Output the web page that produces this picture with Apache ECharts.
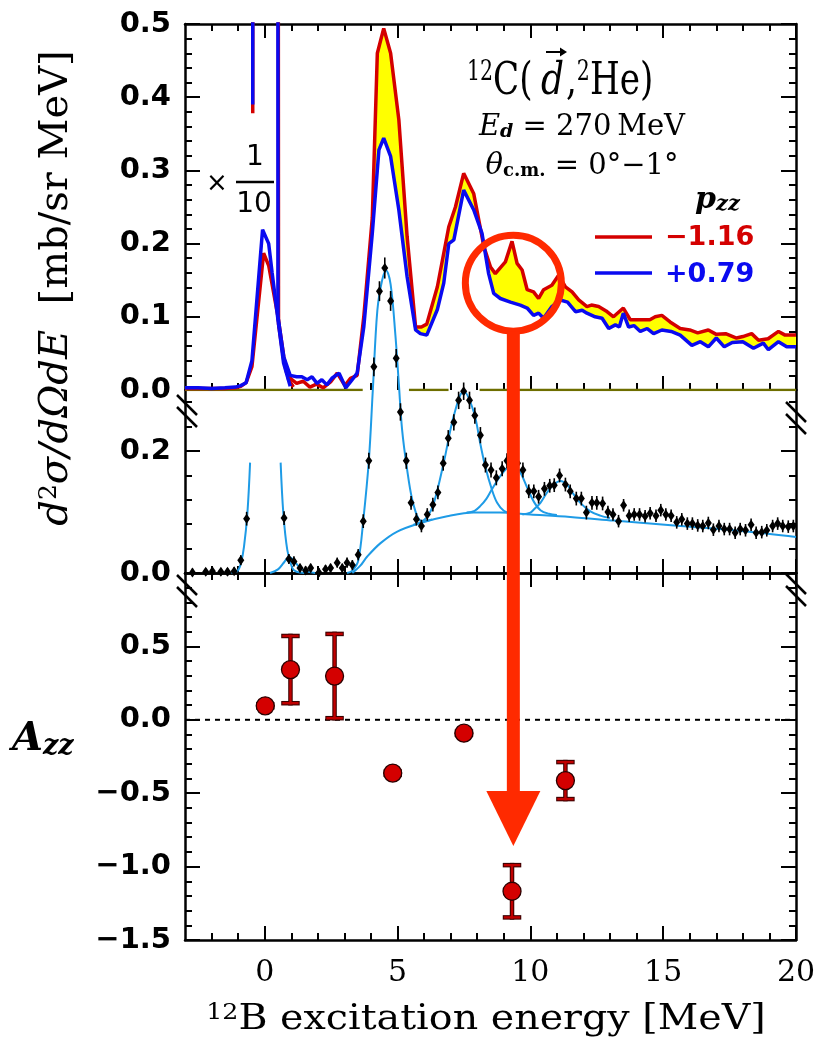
<!DOCTYPE html>
<html>
<head>
<meta charset="utf-8">
<script src="https://cdn.jsdelivr.net/npm/echarts@6/dist/echarts.min.js"></script>
<style>
html,body{margin:0;padding:0;background:#fff;}
#chart{width:821px;height:1048px;}
</style>
</head>
<body>
<div id="chart"></div>
<script>
// ---------------- data ----------------
// excitation-energy axis
const energyMin = -3, energyMax = 20;
const energyTicks = [0, 5, 10, 15, 20];

// upper panel: spectra for p_zz = -1.16 (red) and p_zz = +0.79 (blue)
// ground state drawn scaled by 1/10
const redScaled = [[-3,0.002],[-2.5,0.002],[-2,0.002],[-1.5,0.002],[-1.1,0.003],[-0.9,0.005],[-0.7,0.01],[-0.48,0.032],[-0.04,0.187],[0.15,0.17],[0.3,0.14],[0.5,0.1],[0.72,0.045],[0.9,0.014],[1.08,0.004]];
const blueScaled = [[-3,0.003],[-2.5,0.003],[-2,0.002],[-1.5,0.003],[-1.1,0.004],[-0.9,0.006],[-0.7,0.01],[-0.48,0.04],[-0.08,0.219],[0.15,0.2],[0.28,0.16],[0.5,0.096],[0.71,0.037],[0.96,0.005]];
// unscaled spectra (ground state runs off scale)
const redFull = [[-0.45,0.378],[-0.44,2.0],[0.49,2.0],[0.52,0.09],[0.72,0.04],[0.83,0.023],[1.0,0.015],[1.2,0.009],[1.45,0.012],[1.7,0.004],[1.95,0.008],[2.2,0.003],[2.48,0.011],[2.73,0.023],[3.02,0.006],[3.23,0.016],[3.48,0.02],[3.73,0.1],[4.05,0.235],[4.24,0.46],[4.48,0.494],[4.74,0.46],[5.05,0.369],[5.36,0.21],[5.68,0.086],[5.9,0.086],[6.1,0.09],[6.5,0.141],[6.93,0.223],[7.18,0.25],[7.49,0.296],[7.87,0.268],[8.25,0.196],[8.5,0.168],[8.68,0.159],[9.06,0.175],[9.31,0.203],[9.5,0.173],[9.69,0.164],[9.88,0.137],[10.12,0.134],[10.31,0.125],[10.5,0.137],[10.81,0.143],[11.07,0.157],[11.32,0.141],[11.57,0.134],[11.82,0.123],[12.13,0.114],[12.3,0.116],[12.57,0.114],[12.85,0.108],[13.13,0.1],[13.5,0.112],[13.76,0.096],[14.14,0.096],[14.5,0.096],[14.7,0.1],[14.95,0.102],[15.26,0.093],[15.64,0.084],[16.0,0.082],[16.3,0.078],[16.7,0.082],[17.0,0.076],[17.35,0.077],[17.76,0.071],[18.0,0.073],[18.33,0.077],[18.59,0.068],[18.95,0.07],[19.34,0.08],[19.59,0.075],[20,0.075]];
const blueFull = [[-0.45,0.39],[-0.44,2.0],[0.49,2.0],[0.5,0.1],[0.72,0.045],[0.96,0.02],[1.2,0.018],[1.4,0.018],[1.6,0.014],[1.78,0.018],[1.97,0.009],[2.15,0.014],[2.34,0.007],[2.53,0.016],[2.8,0.023],[3.05,0.003],[3.25,0.012],[3.48,0.023],[3.73,0.086],[4.05,0.214],[4.3,0.328],[4.48,0.344],[4.74,0.319],[5.05,0.246],[5.36,0.155],[5.68,0.082],[5.86,0.077],[6.1,0.075],[6.5,0.11],[6.74,0.146],[6.93,0.2],[7.12,0.205],[7.49,0.273],[7.87,0.246],[8.18,0.214],[8.43,0.159],[8.62,0.132],[8.87,0.125],[9.25,0.12],[9.62,0.116],[9.88,0.112],[10.12,0.102],[10.31,0.105],[10.5,0.098],[10.81,0.114],[11.13,0.123],[11.4,0.12],[11.7,0.107],[11.95,0.109],[12.13,0.105],[12.44,0.1],[12.7,0.098],[12.95,0.084],[13.2,0.089],[13.35,0.086],[13.5,0.105],[13.7,0.086],[13.9,0.088],[14.14,0.08],[14.4,0.084],[14.64,0.077],[14.95,0.082],[15.3,0.08],[15.64,0.075],[16.08,0.061],[16.4,0.066],[16.7,0.059],[17.0,0.071],[17.3,0.059],[17.6,0.065],[18.0,0.066],[18.4,0.057],[18.77,0.064],[18.96,0.055],[19.34,0.066],[19.65,0.059],[20,0.059]];

// middle panel: unpolarized cross section with errors
const midE = [-2.72,-2.22,-1.97,-1.65,-1.4,-1.15,-0.9,-0.68,
  0.73,0.91,1.1,1.33,1.54,1.73,2.04,2.29,2.48,2.73,
  2.92,3.1,3.3,3.52,3.71,3.92,4.11,4.32,4.52,4.74,
  4.95,5.11,5.33,5.51,5.71,5.9,6.12,6.33,6.52,6.72,
  6.91,7.12,7.3,7.49,7.71,7.91,8.12,8.31,8.52,8.72,
  8.94,9.12,9.32,9.52,9.72,9.94,10.13,10.31,10.53,10.73,
  10.9,11.1,11.32,11.5,11.73,11.92,12.11,12.32,12.5,12.72,
  12.92,13.11,13.32,13.51,13.72,13.91,14.11,14.32,14.51,14.73,
  14.91,15.1,15.3,15.51,15.7,15.91,16.1,16.3,16.49,16.7,
  16.89,17.1,17.3,17.5,17.71,17.9,18.1,18.31,18.5,18.71,
  18.9,19.12,19.31,19.5,19.71,19.9];
const midXs = [0.001,0.002,0.003,0.002,0.002,0.003,0.021,0.089,
  0.09,0.023,0.019,0.008,0.004,0.008,0.001,0.006,0.008,0.017,
  0.008,0.017,0.013,0.03,0.085,0.184,0.338,0.462,0.5,0.446,
  0.352,0.264,0.184,0.115,0.088,0.077,0.096,0.112,0.132,0.18,
  0.221,0.247,0.283,0.298,0.283,0.258,0.226,0.177,0.169,0.156,
  0.171,0.184,0.19,0.18,0.169,0.134,0.134,0.125,0.138,0.143,
  0.144,0.16,0.145,0.134,0.122,0.122,0.099,0.115,0.115,0.114,
  0.1,0.096,0.085,0.111,0.094,0.096,0.096,0.093,0.098,0.094,
  0.103,0.096,0.094,0.083,0.088,0.081,0.081,0.078,0.077,0.082,
  0.071,0.077,0.072,0.072,0.066,0.072,0.07,0.079,0.066,0.067,
  0.07,0.077,0.081,0.077,0.076,0.077];
const midErr = [0.003,0.003,0.003,0.003,0.003,0.003,0.005,0.008,
  0.008,0.005,0.005,0.004,0.004,0.004,0.004,0.004,0.004,0.005,
  0.004,0.005,0.005,0.006,0.008,0.01,0.012,0.013,0.014,0.013,
  0.012,0.011,0.01,0.008,0.007,0.007,0.007,0.008,0.008,0.009,
  0.01,0.01,0.011,0.011,0.011,0.01,0.01,0.009,0.009,0.009,
  0.009,0.009,0.009,0.009,0.009,0.008,0.008,0.008,0.008,0.008,
  0.008,0.008,0.008,0.008,0.008,0.008,0.008,0.008,0.008,0.008,
  0.007,0.007,0.007,0.007,0.007,0.007,0.007,0.007,0.007,0.007,
  0.007,0.007,0.007,0.007,0.007,0.007,0.007,0.007,0.007,0.007,
  0.007,0.007,0.007,0.007,0.007,0.007,0.007,0.007,0.007,0.007,
  0.007,0.007,0.007,0.007,0.007,0.007];

// fitted components (each peak drawn on top of the continuum)
const fitGround = [[-1.25,0],[-1.03,0.003],[-0.9,0.015],[-0.78,0.043],[-0.65,0.099],[-0.55,0.181],[0,'-'],[0.6,0.181],[0.7,0.099],[0.85,0.038],[1.04,0.008],[1.2,0.002],[1.5,0]];
const fit095 = [[0.2,0],[0.5,0.006],[0.7,0.016],[0.85,0.024],[0.95,0.026],[1.1,0.02],[1.3,0.01],[1.55,0.003],[1.9,0]];
const fit45 = [[3.1,0],[3.3,0.004],[3.52,0.02],[3.71,0.086],[3.92,0.184],[4.07,0.3],[4.24,0.43],[4.42,0.48],[4.57,0.496],[4.74,0.473],[4.92,0.39],[5.05,0.31],[5.17,0.236],[5.36,0.17],[5.55,0.121],[5.8,0.088],[6.0,0.085],[6.3,0.088]];
const fit75 = [[5.6,0.079],[5.86,0.083],[6.12,0.092],[6.37,0.115],[6.74,0.181],[7.12,0.258],[7.49,0.298],[7.87,0.264],[8.12,0.211],[8.3,0.175],[8.55,0.137],[8.75,0.115],[9.0,0.102],[9.3,0.097]];
const fit93 = [[7.6,0.099],[7.9,0.102],[8.12,0.11],[8.35,0.122],[8.55,0.137],[8.87,0.159],[9.12,0.172],[9.35,0.18],[9.62,0.165],[9.88,0.14],[10.13,0.117],[10.38,0.103],[10.7,0.097],[11.0,0.095]];
const fit113 = [[9.7,0.096],[10.0,0.099],[10.13,0.104],[10.38,0.115],[10.63,0.132],[10.88,0.145],[11.13,0.151],[11.38,0.145],[11.63,0.129],[11.88,0.115],[12.26,0.101],[12.63,0.094],[13.0,0.09]];
const fitContinuum = [[3.3,0],[3.6,0.012],[3.86,0.027],[4.36,0.049],[4.99,0.068],[5.86,0.082],[6.87,0.093],[7.87,0.099],[8.87,0.099],[10,0.096],[11.5,0.092],[13.13,0.086],[15.64,0.077],[18.15,0.068],[20,0.059]];

// lower panel: tensor analyzing power A_zz
const azzE = [0.02, 0.97, 2.63, 4.82, 7.5, 9.31, 11.32];
const azzVal = [0.095, 0.342, 0.298, -0.363, -0.091, -1.168, -0.414];
const azzErr = [0.01, 0.229, 0.287, 0.01, 0.01, 0.178, 0.126];

// panel value ranges and tick labels
const topRange = [0, 0.5], midRange = [0, 0.3], botRange = [-1.5, 1.0];
const topTickLabels = [0, 0.1, 0.2, 0.3, 0.4, 0.5];
const midTickLabels = [0, 0.2];
const botTickLabels = [-1.5, -1.0, -0.5, 0, 0.5];

// highlighted state (circle + arrow)
const markE = 9.36, markTopValue = 0.146, arrowTipAzz = -0.86;

// ---------------- helpers ----------------
const RED = '#d40000', BLUE = '#0a0af0', FIT = '#1e9be6', ARROW = '#ff2a00', OLIVE = '#6e6e00';
const r3 = v => Math.round(v * 1000) / 1000;
function steps(a, b, d) { const o = []; for (let v = a; v <= b + 1e-9; v += d) o.push(r3(v)); return o; }
function minus(list, rem) { return list.filter(v => !rem.some(r => Math.abs(r - v) < 1e-6)); }
function fmtY(v) { const s = Math.abs(v).toFixed(1); return (v < -1e-9 ? '\u2212' : '') + s; }

const xMinor = minus(steps(-2, 19, 1), energyTicks);

function xAx(g, pos, vals, len, line, withLabels) {
  return {
    type: 'value', gridIndex: g, position: pos, min: energyMin, max: energyMax,
    axisLine: { show: line, onZero: false, lineStyle: { color: '#000', width: 2.5 } },
    axisTick: { show: vals.length > 0, inside: true, length: len, customValues: vals, lineStyle: { color: '#000', width: 2 } },
    axisLabel: withLabels ? { show: true, customValues: energyTicks, margin: 18, fontFamily: 'DejaVu Serif', fontSize: 30, color: '#000' } : { show: false },
    splitLine: { show: false }
  };
}
function yAx(g, pos, range, vals, len, line, labels) {
  return {
    type: 'value', gridIndex: g, position: pos, min: range[0], max: range[1],
    axisLine: { show: line, onZero: false, lineStyle: { color: '#000', width: 2.5 } },
    axisTick: { show: true, inside: true, length: len, customValues: vals, lineStyle: { color: '#000', width: 2 } },
    axisLabel: labels ? { show: true, customValues: labels, formatter: fmtY, margin: 14, fontFamily: 'DejaVu Sans', fontWeight: 'bold', fontSize: 29, color: '#000' } : { show: false },
    splitLine: { show: false }
  };
}

const panels = [
  { range: topRange, major: steps(0, 0.5, 0.1), minor: minus(steps(0.02, 0.48, 0.02), steps(0, 0.5, 0.1)), labels: topTickLabels, bt: true, bl: false, tt: true, tl: true, xl: false },
  { range: midRange, major: [0, 0.2], minor: [0.04, 0.08, 0.12, 0.16, 0.24, 0.28], labels: midTickLabels, bt: true, bl: true, tt: false, tl: false, xl: false },
  { range: botRange, major: steps(-1.5, 1.0, 0.5), minor: minus(steps(-1.4, 0.9, 0.1), steps(-1.5, 1.0, 0.5)), labels: botTickLabels, bt: true, bl: true, tt: true, tl: true, xl: true }
];
const xAxes = [], yAxes = [];
panels.forEach((p, g) => {
  xAxes.push(xAx(g, 'bottom', p.bt ? energyTicks : [], 14, p.bl, p.xl));
  xAxes.push(xAx(g, 'bottom', p.bt ? xMinor : [], 7, false, false));
  xAxes.push(xAx(g, 'top', p.tt ? energyTicks : [], 14, p.tl, false));
  xAxes.push(xAx(g, 'top', p.tt ? xMinor : [], 7, false, false));
  yAxes.push(yAx(g, 'left', p.range, p.major, 15, true, p.labels));
  yAxes.push(yAx(g, 'left', p.range, p.minor, 7, false, null));
  yAxes.push(yAx(g, 'right', p.range, p.major, 15, true, null));
  yAxes.push(yAx(g, 'right', p.range, p.minor, 7, false, null));
});

// linear lookup along a polyline (for the filled band only)
function at(arr, x) {
  if (x <= arr[0][0]) return arr[0][1];
  for (let i = 1; i < arr.length; i++) {
    if (x <= arr[i][0]) { const [x0, y0] = arr[i - 1], [x1, y1] = arr[i]; return y0 + (y1 - y0) * (x - x0) / (x1 - x0); }
  }
  return arr[arr.length - 1][1];
}

// zero line of the upper panel, interrupted where the middle-panel peaks pass through it
const midPoints = midE.map((e, i) => [e, midXs[i]]);
const highE = [];
midPoints.forEach((p, i) => { if (p[1] + midErr[i] > 0.28) highE.push(p[0]); });
fit45.concat(fit75).forEach(p => { if (p[1] > 0.28) highE.push(p[0]); });
highE.sort((a, b) => a - b);
const pad = 0.38, gaps = [];
highE.forEach(e => {
  const last = gaps[gaps.length - 1];
  if (last && e - pad <= last[1]) last[1] = e + pad; else gaps.push([e - pad, e + pad]);
});
const zeroLine = [];
let start = energyMin;
gaps.forEach(g => { zeroLine.push([start, 0], [g[0], 0], [g[0], '-']); start = g[1]; });
zeroLine.push([start, 0], [energyMax, 0]);

const fitStyle = { type: 'line', xAxisIndex: 4, yAxisIndex: 4, showSymbol: false, symbol: 'none', smooth: 0.35, clip: false, z: 5, silent: true, lineStyle: { color: FIT, width: 2 } };

const option = {
  animation: false,
  backgroundColor: '#fff',
  grid: [
    { left: 185, top: 24, width: 611, height: 366 },
    { left: 185, top: 390, width: 611, height: 183 },
    { left: 185, top: 573, width: 611, height: 367 }
  ],
  xAxis: xAxes,
  yAxis: yAxes,
  series: [
    // yellow band where the red spectrum lies above the blue one
    {
      type: 'custom', xAxisIndex: 0, yAxisIndex: 0, clip: true, silent: true, z: 1, data: [[0, 0]],
      renderItem: function (params, api) {
        const xs = Array.from(new Set(redFull.concat(blueFull).map(p => p[0]).filter(x => x >= 0.55))).sort((a, b) => a - b);
        const upper = xs.map(x => api.coord([x, Math.max(at(redFull, x), at(blueFull, x))]));
        const lower = xs.slice().reverse().map(x => api.coord([x, at(blueFull, x)]));
        return { type: 'polygon', shape: { points: upper.concat(lower) }, style: { fill: '#ffff00' } };
      }
    },
    { type: 'line', xAxisIndex: 0, yAxisIndex: 0, data: zeroLine, symbol: 'none', silent: true, z: 2, lineStyle: { color: OLIVE, width: 2.5 } },
    { name: '-1.16', type: 'line', xAxisIndex: 0, yAxisIndex: 0, data: redScaled, symbol: 'none', z: 3, lineStyle: { color: RED, width: 3.5 } },
    { name: '-1.16 full', type: 'line', xAxisIndex: 0, yAxisIndex: 0, data: redFull, symbol: 'none', z: 3, lineStyle: { color: RED, width: 3.5 } },
    { name: '+0.79', type: 'line', xAxisIndex: 0, yAxisIndex: 0, data: blueScaled, symbol: 'none', z: 4, lineStyle: { color: BLUE, width: 3.5 } },
    { name: '+0.79 full', type: 'line', xAxisIndex: 0, yAxisIndex: 0, data: blueFull, symbol: 'none', z: 4, lineStyle: { color: BLUE, width: 3.5 } },

    // fit components
    Object.assign({ data: fitContinuum }, fitStyle),
    Object.assign({ data: fitGround, connectNulls: false }, fitStyle),
    Object.assign({ data: fit095 }, fitStyle),
    Object.assign({ data: fit45 }, fitStyle),
    Object.assign({ data: fit75 }, fitStyle),
    Object.assign({ data: fit93 }, fitStyle),
    Object.assign({ data: fit113 }, fitStyle),

    // cross-section data: error bars + points
    {
      type: 'custom', xAxisIndex: 4, yAxisIndex: 4, clip: false, silent: true, z: 6,
      data: midE.map((e, i) => [e, midXs[i], midErr[i]]),
      renderItem: function (params, api) {
        const e = api.value(0), v = api.value(1), d = api.value(2);
        const a = api.coord([e, v - d]), b = api.coord([e, v + d]);
        return { type: 'line', shape: { x1: a[0], y1: a[1] + 2, x2: b[0], y2: b[1] - 2 }, style: { stroke: '#000', lineWidth: 1.6 } };
      }
    },
    { type: 'scatter', xAxisIndex: 4, yAxisIndex: 4, data: midPoints, clip: false, symbol: 'diamond', symbolSize: [7, 10], z: 7, silent: true, itemStyle: { color: '#000', opacity: 1 } },

    // A_zz: zero reference line
    { type: 'line', xAxisIndex: 8, yAxisIndex: 8, data: [[energyMin, 0], [energyMax, 0]], symbol: 'none', silent: true, z: 2, lineStyle: { color: '#000', width: 2, type: [5, 5] } },
    // A_zz error bars with caps
    {
      type: 'custom', xAxisIndex: 8, yAxisIndex: 8, clip: false, silent: true, z: 6,
      data: azzE.map((e, i) => [e, azzVal[i], azzErr[i]]),
      renderItem: function (params, api) {
        const e = api.value(0), v = api.value(1), d = api.value(2);
        const a = api.coord([e, v + d]), b = api.coord([e, v - d]);
        const cap = 7;
        const segs = [[a[0], a[1], b[0], b[1]], [a[0] - cap, a[1], a[0] + cap, a[1]], [b[0] - cap, b[1], b[0] + cap, b[1]]];
        const children = [];
        segs.forEach(s => children.push({ type: 'line', shape: { x1: s[0], y1: s[1], x2: s[2], y2: s[3] }, style: { stroke: '#3a0000', lineWidth: 4.5, lineCap: 'square' } }));
        segs.forEach(s => children.push({ type: 'line', shape: { x1: s[0], y1: s[1], x2: s[2], y2: s[3] }, style: { stroke: '#c00000', lineWidth: 2.4, lineCap: 'square' } }));
        return { type: 'group', children: children };
      }
    },
    { type: 'scatter', xAxisIndex: 8, yAxisIndex: 8, data: azzE.map((e, i) => [e, azzVal[i]]), symbol: 'circle', symbolSize: 18, z: 7, silent: true, itemStyle: { color: '#d40000', opacity: 1, borderColor: '#2a0000', borderWidth: 1.3 } }
  ]
};

const chart = echarts.init(document.getElementById('chart'), null, { renderer: 'canvas' });
chart.setOption(option);

// ---------------- annotations ----------------
const serif = 'DejaVu Serif', sans = 'DejaVu Sans';
function text(x, y, str, o) {
  o = o || {};
  return {
    type: 'text', x: x, y: y, z: 50, scaleX: o.sx || 1, rotation: o.rot || 0, silent: true,
    style: { text: str, x: 0, y: 0, fill: o.fill || '#000', fontFamily: o.family || serif, fontSize: o.size || 30, fontStyle: o.style || 'normal', fontWeight: o.weight || 'normal', align: o.align || 'left', verticalAlign: o.va || 'middle', rich: o.rich }
  };
}
function seg(x1, y1, x2, y2, color, w) {
  return { type: 'line', z: 50, silent: true, shape: { x1, y1, x2, y2 }, style: { stroke: color, lineWidth: w } };
}

const circleC = chart.convertToPixel({ xAxisIndex: 0, yAxisIndex: 0 }, [markE, markTopValue]);
const tip = chart.convertToPixel({ xAxisIndex: 8, yAxisIndex: 8 }, [markE, arrowTipAzz]);
const circR = 48, headH = 55, headW = 27, shaftW = 13;

const gfx = [];
// circle and arrow
gfx.push({ type: 'circle', z: 60, silent: true, shape: { cx: circleC[0], cy: circleC[1], r: circR }, style: { fill: null, stroke: ARROW, lineWidth: 7 } });
gfx.push({ type: 'rect', z: 60, silent: true, shape: { x: tip[0] - shaftW / 2, y: circleC[1] + circR, width: shaftW, height: tip[1] - headH - circleC[1] - circR + 1 }, style: { fill: ARROW } });
gfx.push({ type: 'polygon', z: 60, silent: true, shape: { points: [[tip[0] - headW, tip[1] - headH], [tip[0] + headW, tip[1] - headH], [tip[0], tip[1]]] }, style: { fill: ARROW } });

// axis-break marks
[[187, 411], [796, 418], [187, 591], [796, 590]].forEach(c => {
  gfx.push(seg(c[0] - 10, c[1] - 16, c[0] + 10, c[1] + 4, '#000', 2.5));
  gfx.push(seg(c[0] - 10, c[1] - 4, c[0] + 10, c[1] + 16, '#000', 2.5));
});

// reaction label
const titleRich = { s: { fontSize: 27, fontFamily: serif, verticalAlign: 'top' }, r: { fontSize: 45, fontFamily: serif } };
gfx.push(text(467, 82, '{s|12}{r|C(}', { sx: 0.76, rich: titleRich }));
gfx.push(text(541, 82, 'd', { sx: 0.8, size: 45, style: 'italic' }));
gfx.push(text(566, 82, '{r|,}{s|2}{r|He)}', { sx: 0.76, rich: titleRich }));
gfx.push(seg(546, 52, 565, 52, '#000', 2));
gfx.push({ type: 'polygon', z: 50, silent: true, shape: { points: [[567, 52], [560, 47.5], [560, 56.5]] }, style: { fill: '#000' } });

gfx.push(text(582, 127, '{i|E}{b|d}{r| = 270\u2009MeV}', { align: 'center', rich: {
  i: { fontSize: 29, fontFamily: serif, fontStyle: 'italic' },
  b: { fontSize: 19, fontFamily: serif, fontStyle: 'italic', fontWeight: 'bold', verticalAlign: 'bottom' },
  r: { fontSize: 29, fontFamily: serif } } }));
gfx.push(text(582, 166, '{i|\u03b8}{b|c.m.}{r| = 0\u00b0\u22121\u00b0}', { align: 'center', rich: {
  i: { fontSize: 29, fontFamily: serif, fontStyle: 'italic' },
  b: { fontSize: 18, fontFamily: serif, fontWeight: 'bold', verticalAlign: 'bottom' },
  r: { fontSize: 29, fontFamily: serif } } }));

// legend
gfx.push(text(695, 200, '{i|p}{b|zz}', { rich: {
  i: { fontSize: 30, fontFamily: serif, fontStyle: 'italic', fontWeight: 'bold' },
  b: { fontSize: 21, fontFamily: serif, fontStyle: 'italic', fontWeight: 'bold', verticalAlign: 'bottom' } } }));
gfx.push(seg(595, 237, 652, 237, RED, 3.5));
gfx.push(text(665, 238, '\u22121.16', { family: sans, weight: 'bold', size: 27, fill: RED }));
gfx.push(seg(595, 273, 652, 273, BLUE, 3.5));
gfx.push(text(665, 275, '+0.79', { family: sans, weight: 'bold', size: 27, fill: BLUE }));

// ×1/10 note for the ground state
gfx.push(text(217, 184, '\u00d7', { family: sans, size: 26, align: 'center' }));
gfx.push(text(255, 158, '1', { family: sans, size: 28, align: 'center' }));
gfx.push(seg(236, 182, 274, 182, '#000', 2.5));
gfx.push(text(254, 205, '10', { family: sans, size: 28, align: 'center' }));

// axis titles
gfx.push(text(57, 288, '{i|d}{s|2}{i|\u03c3/d\u03a9dE}{r|  [mb/sr MeV]}', { rot: Math.PI / 2, align: 'center', rich: {
  i: { fontSize: 40, fontFamily: serif, fontStyle: 'italic' },
  s: { fontSize: 25, fontFamily: serif, verticalAlign: 'top' },
  r: { fontSize: 40, fontFamily: serif } } }));
gfx.push(text(12, 740, '{i|A}{b|zz}', { rich: {
  i: { fontSize: 40, fontFamily: serif, fontStyle: 'italic', fontWeight: 'bold' },
  b: { fontSize: 27, fontFamily: serif, fontStyle: 'italic', fontWeight: 'bold', verticalAlign: 'bottom' } } }));
gfx.push(text(486, 1020, '{s|12}{r|B excitation energy [MeV]}', { align: 'center', sx: 1.1, rich: {
  s: { fontSize: 23, fontFamily: serif, verticalAlign: 'top' },
  r: { fontSize: 36, fontFamily: serif } } }));

chart.setOption({ graphic: { elements: gfx } });
</script>
</body>
</html>
